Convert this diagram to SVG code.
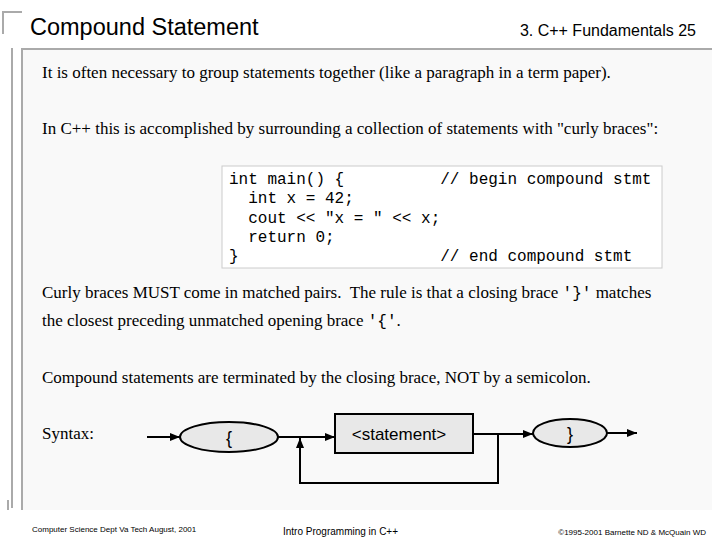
<svg xmlns="http://www.w3.org/2000/svg" width="720" height="540" viewBox="0 0 720 540">
<style>
.t{font-family:"Liberation Serif",serif;font-size:17px;fill:#000}
.m{font-family:"Liberation Mono",monospace;font-size:16px;fill:#000;white-space:pre}
.s{font-family:"Liberation Sans",sans-serif;fill:#000}
.ln{stroke:#000;stroke-width:2;fill:none}
.nd{fill:#e8e8e8;stroke:#000;stroke-width:2}
</style>
<defs><marker id="a" viewBox="0 0 10 10" refX="10" refY="5" markerWidth="5" markerHeight="5" orient="auto"><path d="M0,1 L10,5 L0,9 Z" fill="#000"/></marker></defs>
<rect width="720" height="540" fill="#fff"/>
<path d="M3,34 V12 H22" stroke="#aaa" stroke-width="2" fill="none"/>
<path d="M12,48 V508 M8,500 V510" stroke="#aaa" stroke-width="2" fill="none"/>
<rect x="22" y="49" width="690" height="461" fill="#f9f9f9"/>
<path d="M22,510 V49 H712" stroke="#aaa" stroke-width="2" fill="none"/>
<text x="30" y="35" class="s" font-size="23.5">Compound Statement</text>
<text x="696" y="36" class="s" font-size="16" text-anchor="end">3. C++ Fundamentals  25</text>
<text x="42" y="78" class="t">It is often necessary to group statements together (like a paragraph in a term paper).</text>
<text x="42" y="134" class="t">In C++ this is accomplished by surrounding a collection of statements with "curly braces":</text>
<rect x="222" y="166" width="440" height="102" fill="#fff" stroke="#ccc"/>
<g class="m">
<text x="229" y="184" class="m">int main() {          // begin compound stmt</text>
<text x="229" y="203" class="m">  int x = 42;</text>
<text x="229" y="223" class="m">  cout &lt;&lt; "x = " &lt;&lt; x;</text>
<text x="229" y="242" class="m">  return 0;</text>
<text x="229" y="261" class="m">}                     // end compound stmt</text>
</g>
<text x="42" y="298" class="t" style="white-space:pre">Curly braces MUST come in matched pairs.  The rule is that a closing brace <tspan class="m">'}'</tspan> matches</text>
<text x="42" y="326" class="t">the closest preceding unmatched opening brace <tspan class="m">'{'</tspan>.</text>
<text x="42" y="383" class="t">Compound statements are terminated by the closing brace, NOT by a semicolon.</text>
<text x="42" y="439" class="t">Syntax:</text>
<g id="connectors">
<path class="ln" d="M147,437 H180" marker-end="url(#a)"/>
<path class="ln" d="M278,437 H335" marker-end="url(#a)"/>
<path class="ln" d="M473,434 H533" marker-end="url(#a)"/>
<path class="ln" d="M498,434 V483 H300 V438" marker-end="url(#a)"/>
<path class="ln" d="M607,433 H637" marker-end="url(#a)"/>
</g>
<g id="open"><ellipse class="nd" cx="229" cy="437" rx="49" ry="15"/><text x="229" y="444" class="s" font-size="18" text-anchor="middle">{</text></g>
<g id="stmt"><rect class="nd" x="335" y="414" width="138" height="39"/><text x="399" y="440" class="s" font-size="17" text-anchor="middle">&lt;statement&gt;</text></g>
<g id="close"><ellipse class="nd" cx="570" cy="433" rx="37" ry="14"/><text x="570" y="440" class="s" font-size="18" text-anchor="middle">}</text></g>
<text x="32" y="532" class="s" font-size="8">Computer Science Dept Va Tech  August, 2001</text>
<text x="283" y="535" class="s" font-size="10">Intro Programming in C++</text>
<text x="706" y="535" class="s" font-size="8" text-anchor="end">©1995-2001 Barnette ND &amp; McQuain WD</text>
</svg>
